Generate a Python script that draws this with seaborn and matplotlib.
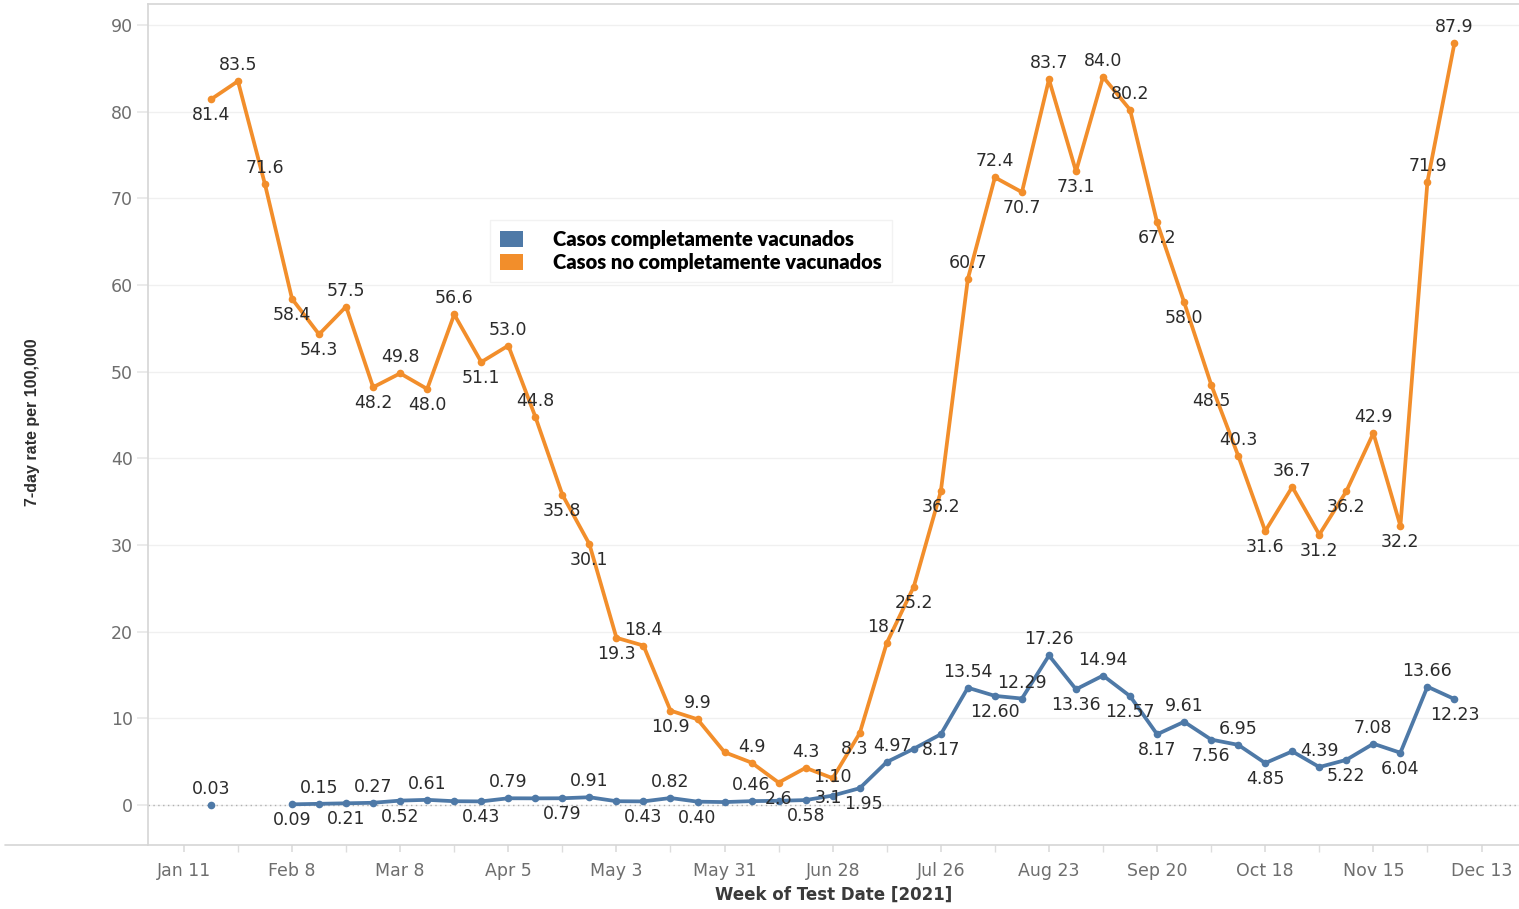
import numpy as np
import pandas as pd
import matplotlib
matplotlib.use("Agg")
import matplotlib.pyplot as plt
from matplotlib.patches import Patch
from matplotlib.lines import Line2D
import seaborn as sns

# ---------------- data ----------------
start_week = "2021-01-18"
n_weeks = 47

orange_name = "Casos no completamente vacunados"
blue_name = "Casos completamente vacunados"

orange_values = [81.4, 83.5, 71.6, 58.4, 54.3, 57.5, 48.2, 49.8, 48.0, 56.6,
                 51.1, 53.0, 44.8, 35.8, 30.1, 19.3, 18.4, 10.9, 9.9, 6.1,
                 4.9, 2.6, 4.3, 3.1, 8.3, 18.7, 25.2, 36.2, 60.7, 72.4,
                 70.7, 83.7, 73.1, 84.0, 80.2, 67.2, 58.0, 48.5, 40.3, 31.6,
                 36.7, 31.2, 36.2, 42.9, 32.2, 71.9, 87.9]
orange_labels = ["81.4", "83.5", "71.6", "58.4", "54.3", "57.5", "48.2", "49.8", "48.0", "56.6",
                 "51.1", "53.0", "44.8", "35.8", "30.1", "19.3", "18.4", "10.9", "9.9", "",
                 "4.9", "2.6", "4.3", "3.1", "8.3", "18.7", "25.2", "36.2", "60.7", "72.4",
                 "70.7", "83.7", "73.1", "84.0", "80.2", "67.2", "58.0", "48.5", "40.3", "31.6",
                 "36.7", "31.2", "36.2", "42.9", "32.2", "71.9", "87.9"]
orange_side = list("baabbababa" "baabbbabax" "ababbabbaa" "babaabbbab" "abbabaa")

blue_values = [0.03, np.nan, np.nan, 0.09, 0.15, 0.21, 0.27, 0.52, 0.61, 0.45,
               0.43, 0.79, 0.78, 0.79, 0.91, 0.45, 0.43, 0.82, 0.40, 0.35,
               0.46, 0.50, 0.58, 1.10, 1.95, 4.97, 6.5, 8.17, 13.54, 12.60,
               12.29, 17.26, 13.36, 14.94, 12.57, 8.17, 9.61, 7.56, 6.95, 4.85,
               6.2, 4.39, 5.22, 7.08, 6.04, 13.66, 12.23]
blue_labels = ["0.03", "", "", "0.09", "0.15", "0.21", "0.27", "0.52", "0.61", "",
               "0.43", "0.79", "", "0.79", "0.91", "", "0.43", "0.82", "0.40", "",
               "0.46", "", "0.58", "1.10", "1.95", "4.97", "", "8.17", "13.54", "12.60",
               "12.29", "17.26", "13.36", "14.94", "12.57", "8.17", "9.61", "7.56", "6.95", "4.85",
               "", "4.39", "5.22", "7.08", "6.04", "13.66", "12.23"]
blue_side = list("axxbababax" "baxbaxbabx" "axbabaxbab" "aababbabab" "xababab")

tick_dates = pd.date_range("2021-01-11", periods=13, freq="28D")
tick_labels = ["Jan 11", "Feb 8", "Mar 8", "Apr 5", "May 3", "May 31", "Jun 28",
               "Jul 26", "Aug 23", "Sep 20", "Oct 18", "Nov 15", "Dec 13"]
y_ticks = [0, 10, 20, 30, 40, 50, 60, 70, 80, 90]

# small label nudges (points) to ease crowded spots: (series, week index) -> (dx, dy)
nudges = {("o", 23): (-3, -3), ("b", 23): (0, 2), ("o", 24): (-4, 0),
          ("b", 24): (3, 0), ("b", 25): (4, 0)}

# ---------------- frame ----------------
weeks = pd.date_range(start_week, periods=n_weeks, freq="7D")

blue_segment = np.where(np.arange(n_weeks) < 3, 0, 1)
df = pd.concat([
    pd.DataFrame({"week": weeks, "rate": orange_values, "series": orange_name,
                  "key": "o", "idx": np.arange(n_weeks),
                  "seg": "o0", "label": orange_labels, "side": orange_side}),
    pd.DataFrame({"week": weeks, "rate": blue_values, "series": blue_name,
                  "key": "b", "idx": np.arange(n_weeks),
                  "seg": ["b%d" % s for s in blue_segment], "label": blue_labels,
                  "side": blue_side}),
], ignore_index=True)

BLUE = "#4e79a7"
ORANGE = "#f28e2b"
palette = {blue_name: BLUE, orange_name: ORANGE}

sns.set_theme(style="white")
plt.rcParams["font.family"] = ["DejaVu Sans"]

W, H = 1519, 909
fig = plt.figure(figsize=(W / 100, H / 100), dpi=100)
ax = fig.add_axes([148 / W, 1 - 845 / H, 1 - 148 / W, (845 - 4) / H])

sns.lineplot(data=df.dropna(subset=["rate"]), x="week", y="rate", hue="series",
             units="seg", estimator=None, palette=palette,
             hue_order=[blue_name, orange_name], linewidth=2.7,
             marker="o", markersize=5.5, markeredgewidth=0, legend=False, ax=ax,
             zorder=3)

# data labels
for _, r in df.iterrows():
    if not r["label"] or r["side"] == "x" or pd.isna(r["rate"]):
        continue
    dx, ddy = nudges.get((r["key"], r["idx"]), (0, 0))
    dy = (11.5 if r["side"] == "a" else -11.5) + ddy
    ax.annotate(r["label"], (r["week"], r["rate"]), xytext=(dx, dy),
                textcoords="offset points", ha="center", va="center",
                fontsize=12.5, color="#2b2b2b", zorder=5)

# axes
ax.set_ylim(-4.6, 92.4)
x0 = pd.Timestamp("2021-01-01 17:00")
ax.set_xlim(x0, x0 + pd.Timedelta(days=355))
ax.set_yticks(y_ticks)
ax.set_yticklabels([str(v) for v in y_ticks])
ax.set_xticks(tick_dates)
ax.set_xticklabels(tick_labels)
ax.set_xticks(pd.date_range("2021-01-11", "2021-12-20", freq="14D"), minor=True)

ax.tick_params(axis="y", length=8, color="#e8e8e8", pad=3, labelsize=12.5,
               labelcolor="#6e6e6e", left=True)
ax.tick_params(axis="x", which="major", length=5, color="#dddddd", pad=7,
               labelsize=12.5, labelcolor="#6e6e6e", bottom=True)
ax.tick_params(axis="x", which="minor", length=5, color="#dddddd", bottom=True)

ax.grid(axis="y", color="#f0f0f0", linewidth=1)
ax.axhline(0, color="#b0b0b0", linestyle=(0, (1, 2.5)), linewidth=1, zorder=1)

for s in ["left", "top", "bottom"]:
    ax.spines[s].set_color("#d6d6d6")
    ax.spines[s].set_linewidth(1.2)
ax.spines["right"].set_visible(False)
fig.add_artist(Line2D([5 / W, 148 / W], [1 - 845 / H, 1 - 845 / H], color="#d6d6d6",
                      linewidth=1.2))

ax.set_xlabel("")
ax.set_ylabel("")
fig.text((148 + 1519) / 2 / W, 1 - 895 / H, "Week of Test Date [2021]",
         ha="center", va="center", fontsize=12, fontweight="bold", color="#3a3a3a")
fig.text(33 / W, 1 - 422 / H, "7-day rate per 100,000", rotation=90,
         ha="center", va="center", fontsize=11.5, fontweight="bold",
         color="#2e2e2e", family=["Liberation Sans", "DejaVu Sans"])

handles = [Patch(facecolor=BLUE, edgecolor="none"),
           Patch(facecolor=ORANGE, edgecolor="none")]
leg = fig.legend(handles, [blue_name, orange_name], loc="upper left",
                 bbox_to_anchor=(490 / W, 1 - 220 / H), frameon=True,
                 prop={"family": ["Lato", "DejaVu Sans"], "weight": "heavy", "size": 14.5},
                 handlelength=1.15, handleheight=0.85, handletextpad=1.5,
                 labelspacing=0.2, borderpad=0.5, borderaxespad=0)
for t in leg.get_texts():
    t.set_color("#000000")
leg.get_frame().set_facecolor("white")
leg.get_frame().set_edgecolor("#f2f2f2")
leg.get_frame().set_alpha(1)
leg.get_frame().set_boxstyle("square", pad=0)
leg.set_zorder(10)

fig.savefig("out.png", dpi=100)
